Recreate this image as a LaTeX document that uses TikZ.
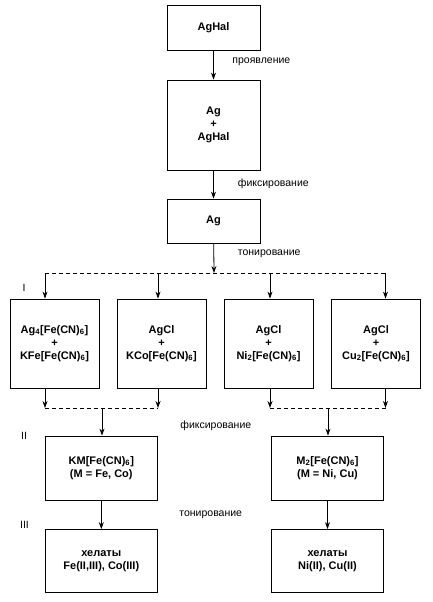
\documentclass[tikz,border=0pt]{standalone}
\usepackage{fontspec}
\setmainfont{Liberation Sans}
\usetikzlibrary{arrows.meta}
\begin{document}
\begin{tikzpicture}[x=1pt,y=-1pt,line width=0.8pt,
  box/.style={rectangle,draw=black,inner sep=0pt,align=center,font=\fontsize{11}{13}\selectfont\bfseries},
  lbl/.style={anchor=west,inner sep=0pt,font=\fontsize{10.5}{12}\selectfont},
  num/.style={inner sep=0pt,font=\fontsize{10.5}{12}\selectfont},
  arr/.style={-{Stealth[length=7pt,width=5pt]}},
  branch/.style={dash pattern=on 4pt off 3pt}]
\useasboundingbox (0,0) rectangle (432,602);
\node[box,minimum width=93pt,minimum height=45pt] (hal) at (213.5,27.5) {AgHal};
\node[box,minimum width=93pt,minimum height=90pt] (mix) at (213.5,125) {Ag\\+\\AgHal};
\node[box,minimum width=93pt,minimum height=44pt] (ag) at (213.5,221) {Ag};
\node[box,minimum width=89pt,minimum height=89pt] (r1) at (54.5,343.5) {Ag\textsubscript{4}[Fe(CN)\textsubscript{6}]\\+\\KFe[Fe(CN)\textsubscript{6}]};
\node[box,minimum width=89pt,minimum height=89pt] (r2) at (161.5,343.5) {AgCl\\+\\KCo[Fe(CN)\textsubscript{6}]};
\node[box,minimum width=89pt,minimum height=89pt] (r3) at (268.5,343.5) {AgCl\\+\\Ni\textsubscript{2}[Fe(CN)\textsubscript{6}]};
\node[box,minimum width=89pt,minimum height=89pt] (r4) at (376,343.5) {AgCl\\+\\Cu\textsubscript{2}[Fe(CN)\textsubscript{6}]};
\node[box,minimum width=112pt,minimum height=64pt] (km) at (101.3,468) {KM[Fe(CN)\textsubscript{6}]\\(M = Fe, Co)};
\node[box,minimum width=112pt,minimum height=64pt] (mm) at (327.5,468) {M\textsubscript{2}[Fe(CN)\textsubscript{6}]\\(M = Ni, Cu)};
\node[box,minimum width=112pt,minimum height=63pt] (ch1) at (101.3,561) {хелаты\\Fe(II,III), Co(III)};
\node[box,minimum width=112pt,minimum height=63pt] (ch2) at (327.5,561) {хелаты\\Ni(II), Cu(II)};
\node[lbl] (dev) at (232,62) {проявление};
\node[lbl] (fix1) at (237.5,183.5) {фиксирование};
\node[lbl] (ton1) at (237.5,254) {тонирование};
\node[lbl] (fix2) at (180,426) {фиксирование};
\node[lbl] (ton2) at (179,515) {тонирование};
\node[num] (n1) at (24,288) {I};
\node[num] (n2) at (24,435.5) {II};
\node[num] (n3) at (24.5,525) {III};
\coordinate (t) at (214,273);
\coordinate (t1) at (45,273);
\coordinate (t2) at (158,273);
\coordinate (t3) at (270,273);
\coordinate (t4) at (385.5,273);
\coordinate (b1) at (45,408);
\coordinate (b2) at (158,408);
\coordinate (b3) at (270,408);
\coordinate (b4) at (385.5,408);
\coordinate (bl) at (102,408);
\coordinate (br) at (328,408);
\draw[arr] (hal) -- (mix);
\draw[arr] (mix) -- (ag);
\draw[arr] (ag) -- (t);
\draw[branch] (t1) -- (t4);
\draw[arr] (t1) -- (t1 |- r1.north);
\draw[arr] (t2) -- (t2 |- r2.north);
\draw[arr] (t3) -- (t3 |- r3.north);
\draw[arr] (t4) -- (t4 |- r4.north);
\draw[arr] (b1 |- r1.south) -- (b1);
\draw[arr] (b2 |- r2.south) -- (b2);
\draw[arr] (b3 |- r3.south) -- (b3);
\draw[arr] (b4 |- r4.south) -- (b4);
\draw[branch] (b1) -- (b2);
\draw[branch] (b3) -- (b4);
\draw[arr] (bl) -- (bl |- km.north);
\draw[arr] (br) -- (br |- mm.north);
\draw[arr] (km) -- (ch1);
\draw[arr] (mm) -- (ch2);
\end{tikzpicture}
\end{document}
